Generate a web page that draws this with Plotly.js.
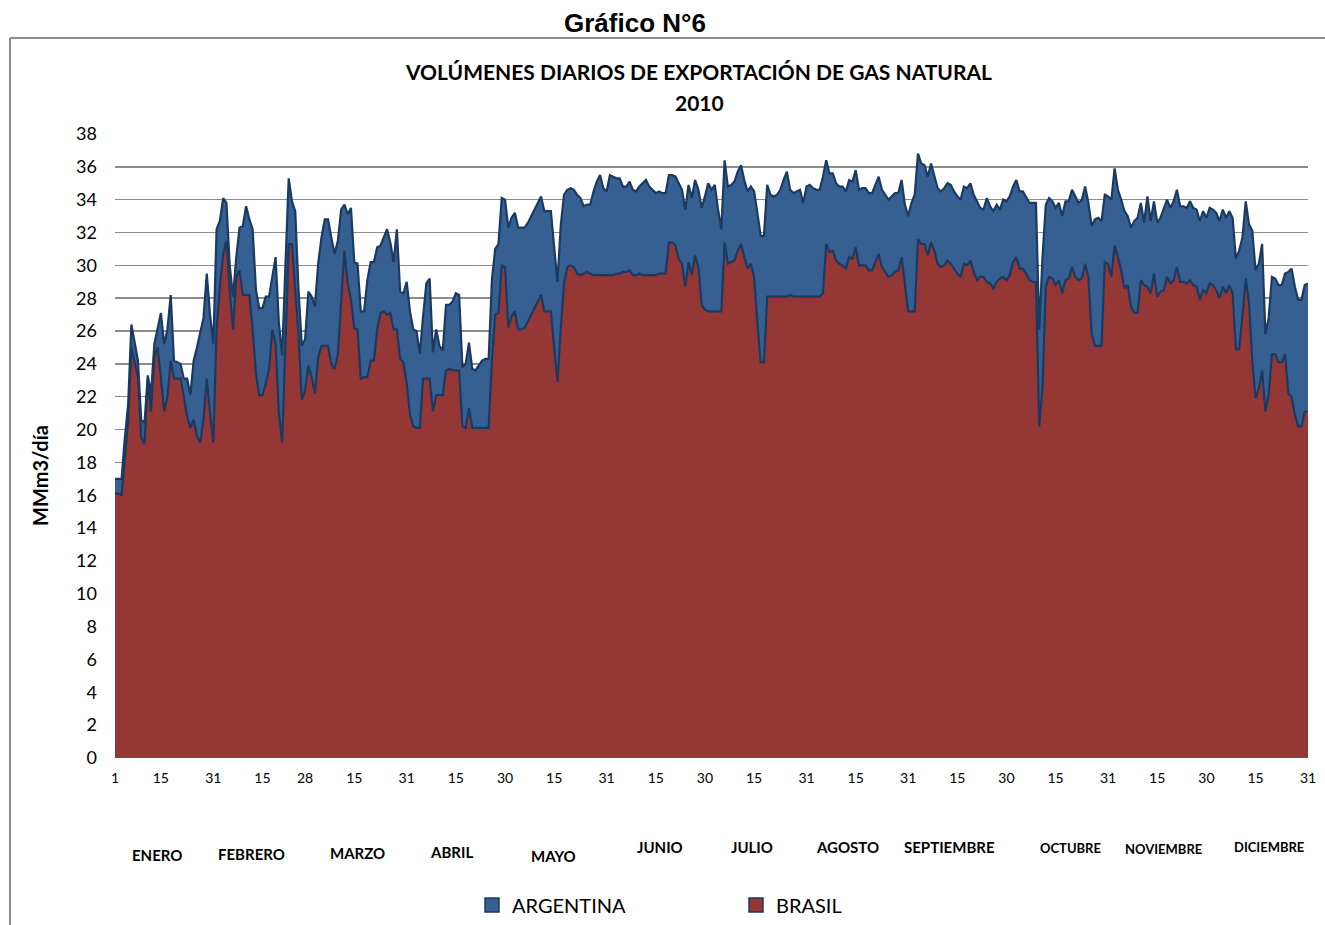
<!DOCTYPE html>
<html>
<head>
<meta charset="utf-8">
<script src="https://cdn.plot.ly/plotly-3.0.1.min.js"></script>
<style>
html,body{margin:0;padding:0;background:#ffffff;}
#chart{width:1325px;height:925px;}
</style>
</head>
<body>
<div id="chart"></div>
<script>
// ---- Daily export volumes 2010 (MMm3/día) ----
const brasilEne = [16.1,16.1,16.0,18.5,20.5,25.0,24.0,23.2,19.5,19.1,23.1,21.1,24.4,25.0,23.2,21.1,22.0,24.2,23.1,23.1,23.1,22.0,20.8,20.1,20.6,19.6,19.2,20.6,23.1,21.0,19.2];
const brasilFeb = [26.1,28.7,30.7,31.5,28.5,26.1,29.3,29.7,28.2,28.2,28.2,26.1,23.4,22.1,22.1,22.8,23.7,26.1,25.2,21.0,19.2,25.2,31.3,31.3,28.5,25.7,21.8,22.4];
const brasilMar = [23.9,23.2,22.2,24.4,25.1,25.1,25.1,24.0,23.7,24.6,27.7,30.9,28.9,27.9,26.2,26.1,23.1,23.2,23.2,24.2,24.2,26.1,27.1,27.2,27.0,27.1,26.1,26.1,24.3,24.1,22.8];
const brasilAbr = [20.9,20.2,20.1,20.1,23.1,23.1,23.1,21.1,22.1,22.1,22.1,23.6,23.7,23.6,23.6,23.6,20.2,20.1,21.3,20.1,20.1,20.1,20.1,20.1,20.1,24.2,27.0,27.1,30.0,29.9];
const brasilMay = [26.2,26.9,27.2,26.1,26.1,26.2,26.6,27.0,27.3,27.8,28.2,27.2,27.2,27.2,25.0,22.9,26.1,28.9,29.9,30.0,29.9,29.5,29.4,29.5,29.6,29.5,29.4,29.4,29.4,29.4,29.4];
const brasilJun = [29.4,29.4,29.5,29.5,29.6,29.6,29.7,29.4,29.4,29.5,29.4,29.4,29.4,29.4,29.4,29.5,29.5,29.5,31.4,31.4,31.2,30.4,30.1,28.7,30.2,29.4,30.6,29.9,27.6,27.3];
const brasilJul = [27.2,27.2,27.2,27.2,27.2,31.4,30.1,30.2,30.3,30.9,31.3,30.5,29.8,30.1,29.3,26.5,24.1,24.1,28.1,28.1,28.1,28.1,28.1,28.1,28.1,28.2,28.1,28.1,28.1,28.1,28.1];
const brasilAgo = [28.1,28.1,28.1,28.1,28.3,31.3,30.8,30.9,30.3,30.1,30.0,29.8,30.5,30.4,31.1,30.0,30.0,30.0,29.7,29.7,30.2,30.7,29.9,29.6,29.3,29.4,29.6,29.7,30.5,28.9,27.2];
const brasilSep = [27.2,27.2,31.6,31.3,31.3,30.6,31.4,30.9,30.1,29.9,30.0,30.3,30.1,29.8,29.5,29.3,30.1,30.0,30.3,29.6,29.1,29.3,29.3,29.0,28.9,28.6,29.0,29.2,29.3,29.1];
const brasilOct = [29.4,30.2,30.5,29.8,29.8,29.5,29.1,29.0,29.0,20.2,22.6,28.7,29.3,29.2,28.8,29.1,28.3,29.1,29.2,29.9,29.3,29.1,29.2,30.1,29.3,25.8,25.1,25.1,25.1,30.2,30.1];
const brasilNov = [29.3,31.2,30.5,29.7,28.6,28.8,27.5,27.1,27.1,29.1,28.8,28.7,28.3,29.5,28.1,28.4,28.5,29.3,28.9,29.1,29.9,29.0,29.0,28.9,29.1,28.8,28.7,27.9,28.5,28.3];
const brasilDic = [28.9,28.8,28.5,28.0,28.7,28.3,28.8,28.3,24.9,24.9,26.9,29.2,27.7,24.2,21.9,22.5,23.6,21.1,22.1,24.6,24.6,24.1,24.1,24.6,22.2,22.0,20.9,20.2,20.2,21.1,21.1];

const argentinaEne = [0.9,0.9,1.0,1.0,1.0,1.4,1.2,1.0,1.1,1.3,0.2,1.1,0.8,1.1,3.9,4.1,4.1,4.0,1.1,1.0,0.9,1.1,2.3,2.0,3.6,5.4,6.8,6.2,6.4,6.0,6.0];
const argentinaFeb = [6.1,4.0,3.4,2.3,1.5,2.0,1.2,2.6,4.2,5.4,4.6,6.1,5.1,5.3,5.3,5.3,4.4,3.2,5.3,5.5,5.3,4.8,4.0,2.6,4.8,2.8,3.3,3.1];
const argentinaMar = [4.5,4.9,5.3,5.7,6.6,7.7,7.7,7.7,7.0,6.9,5.7,2.8,4.2,5.6,4.0,4.0,4.1,4.0,5.9,6.0,6.0,5.0,4.1,4.5,5.2,4.3,4.1,6.1,4.1,4.2,6.2];
const argentinaAbr = [6.3,5.9,5.9,4.5,3.8,5.8,6.1,3.6,4.0,3.0,2.7,4.0,3.9,4.2,4.7,4.6,3.6,3.9,4.0,3.6,3.5,3.8,4.1,4.2,4.2,4.9,4.0,4.2,4.1,4.1];
const argentinaMay = [6.1,6.0,6.0,6.2,6.2,6.1,6.0,6.0,6.1,6.0,6.0,6.1,6.1,6.1,6.1,6.1,6.3,5.4,4.7,4.7,4.7,4.8,4.7,4.1,4.1,4.2,5.1,5.7,6.1,5.3,5.1];
const argentinaJun = [6.1,6.0,5.8,5.8,5.2,5.2,5.4,5.2,5.1,5.3,5.6,5.8,5.4,5.2,5.0,5.0,4.9,4.9,4.1,4.1,4.2,4.6,4.5,4.7,4.7,4.7,4.6,4.7,5.9,6.9];
const argentinaJul = [7.8,7.4,7.7,6.2,5.0,5.0,4.7,4.7,4.8,4.8,4.8,4.7,4.7,4.7,5.2,6.7,7.7,7.7,6.8,6.2,6.1,6.2,6.5,7.1,7.6,6.4,6.3,6.4,6.5,5.7,6.7];
const argentinaAgo = [6.8,6.6,6.5,6.5,7.1,5.1,4.8,4.7,4.7,4.7,4.8,4.7,4.7,4.7,4.7,4.6,4.7,4.7,4.7,4.7,4.7,4.7,4.7,4.7,4.7,4.8,4.8,4.7,4.7,4.8,5.8];
const argentinaSep = [6.6,7.1,5.2,4.9,4.8,4.8,4.8,4.5,4.6,4.6,4.7,4.7,4.8,4.7,4.7,4.7,4.7,4.7,4.7,4.7,4.8,4.2,4.1,5.1,4.7,4.7,4.7,4.2,4.7,4.8];
const argentinaOct = [4.8,4.6,4.7,4.7,4.7,4.6,4.7,4.8,4.8,5.9,7.9,5.0,4.8,4.7,4.7,4.7,4.7,4.8,4.7,4.7,4.9,4.7,4.8,4.7,4.5,6.6,7.7,7.8,7.6,4.1,4.1];
const argentinaNov = [4.7,4.7,4.1,4.3,4.7,4.2,4.8,5.6,5.8,4.7,3.8,5.5,4.4,4.4,4.5,4.5,4.9,4.7,4.6,4.8,4.7,4.6,4.6,4.6,4.8,4.7,4.7,4.8,4.8,4.6];
const argentinaDic = [4.6,4.6,4.7,4.7,4.7,4.6,4.5,4.6,5.5,6.0,4.8,4.7,4.8,7.9,7.8,7.6,7.7,4.7,4.7,4.7,4.6,4.7,4.7,4.9,7.4,7.8,7.8,7.7,7.7,7.7,7.8];

// x-axis tick labels (day-of-year index and the printed day of month)
const tickDays   = [1,15,31,46,59,74,90,105,120,135,151,166,181,196,212,227,243,258,273,288,304,319,334,349,365];
const tickLabels = ['1','15','31','15','28','15','31','15','30','15','31','15','30','15','31','15','31','15','30','15','31','15','30','15','31'];
const monthNames = ['ENERO','FEBRERO','MARZO','ABRIL','MAYO','JUNIO','JULIO','AGOSTO','SEPTIEMBRE','OCTUBRE','NOVIEMBRE','DICIEMBRE'];

// ---- assemble ----
const brasil = [].concat(brasilEne,brasilFeb,brasilMar,brasilAbr,brasilMay,brasilJun,brasilJul,brasilAgo,brasilSep,brasilOct,brasilNov,brasilDic);
const argentina = [].concat(argentinaEne,argentinaFeb,argentinaMar,argentinaAbr,argentinaMay,argentinaJun,argentinaJul,argentinaAgo,argentinaSep,argentinaOct,argentinaNov,argentinaDic);
const days = brasil.map((_, i) => i + 1);

const FONT = 'Lato, "Open Sans", sans-serif';
const LINE = '#1B3A62';
const RED = '#953735';
const BLUE = '#376092';

const traces = [
  {x: days, y: brasil, type: 'scatter', mode: 'lines', stackgroup: 'exp', name: 'BRASIL',
   line: {color: LINE, width: 2.2}, fillcolor: RED, showlegend: false, hoverinfo: 'skip'},
  {x: days, y: argentina, type: 'scatter', mode: 'lines', stackgroup: 'exp', name: 'ARGENTINA',
   line: {color: LINE, width: 2.2}, fillcolor: BLUE, showlegend: false, hoverinfo: 'skip'},
  {x: [null], y: [null], type: 'scatter', mode: 'markers', name: 'ARGENTINA',
   marker: {symbol: 'square', size: 14, color: BLUE, line: {color: LINE, width: 1.5}}, hoverinfo: 'skip'},
  {x: [null], y: [null], type: 'scatter', mode: 'markers', name: 'BRASIL',
   marker: {symbol: 'square', size: 14, color: RED, line: {color: LINE, width: 1.5}}, hoverinfo: 'skip'}
];

// layout placement of the month captions (plot-area pixel centres)
const PL = 115, PW = 1193, PB = 758, PH = 624;
const monthPx = [157, 251, 357, 451, 553, 660, 752, 847, 949, 1070, 1163, 1269];
const monthPy = [855, 854, 853, 852, 856, 847, 847, 847, 847, 848, 849, 847];
const monthFs = [15, 15, 15, 15, 15, 15, 15, 15, 15, 13, 13, 13];
const px = v => (v - PL) / PW;
const py = v => (PB - v) / PH;

const annotations = monthNames.map((m, i) => ({
  text: '<b>' + m + '</b>', xref: 'paper', yref: 'paper', x: px(monthPx[i]), y: py(monthPy[i]),
  xanchor: 'center', yanchor: 'middle', showarrow: false,
  font: {family: FONT, size: monthFs[i], color: '#000'}
}));
annotations.push(
  {text: '<b>Gráfico N°6</b>', xref: 'paper', yref: 'paper', x: px(635), y: py(23),
   xanchor: 'center', yanchor: 'middle', showarrow: false,
   font: {family: '"Liberation Sans", Arial, sans-serif', size: 26, color: '#000'}},
  {text: '<b>2010</b>', xref: 'paper', yref: 'paper', x: px(699), y: py(103),
   xanchor: 'center', yanchor: 'middle', showarrow: false,
   font: {family: FONT, size: 21, color: '#000'}},
  {text: '<b>MMm3/día</b>', xref: 'paper', yref: 'paper', x: px(40), y: py(476),
   xanchor: 'center', yanchor: 'middle', textangle: -90, showarrow: false,
   font: {family: FONT, size: 20, color: '#000'}}
);

const layout = {
  width: 1325, height: 925, autosize: false,
  paper_bgcolor: '#ffffff', plot_bgcolor: '#ffffff',
  margin: {l: 115, r: 17, t: 134, b: 167, autoexpand: false},
  title: {text: '<b>VOLÚMENES DIARIOS DE EXPORTACIÓN DE GAS NATURAL</b>',
          xref: 'container', yref: 'container', x: 699 / 1325, y: 1 - 73 / 925,
          xanchor: 'center', yanchor: 'middle',
          font: {family: FONT, size: 21, color: '#000'}},
  xaxis: {range: [1, 365], tickmode: 'array', tickvals: tickDays, ticktext: tickLabels,
          showgrid: false, zeroline: false, showline: false, ticks: '',
          ticklabelstandoff: 10, tickangle: 0, automargin: false,
          tickfont: {family: FONT, size: 14, color: '#000'}, fixedrange: true},
  yaxis: {range: [0, 38], tick0: 0, dtick: 2, showgrid: true, gridcolor: '#8c8c8c', gridwidth: 1.5,
          zeroline: false, showline: false, ticks: '', ticklabelstandoff: 17, automargin: false,
          tickfont: {family: FONT, size: 18, color: '#000'}, fixedrange: true},
  showlegend: true,
  legend: {orientation: 'h', x: px(472), y: py(905), xanchor: 'left', yanchor: 'middle',
           entrywidth: 219, entrywidthmode: 'pixels', traceorder: 'normal',
           font: {family: FONT, size: 20, color: '#000'}, bgcolor: 'rgba(0,0,0,0)'},
  annotations: annotations,
  shapes: [
    {type: 'line', xref: 'paper', yref: 'paper', x0: px(10), x1: px(10), y0: py(38), y1: py(925),
     line: {color: '#8c8c8c', width: 2}},
    {type: 'line', xref: 'paper', yref: 'paper', x0: px(10), x1: px(1325), y0: py(38), y1: py(38),
     line: {color: '#8c8c8c', width: 2}}
  ],
  hovermode: false
};

Plotly.newPlot('chart', traces, layout, {displayModeBar: false, staticPlot: true});
</script>
</body>
</html>
